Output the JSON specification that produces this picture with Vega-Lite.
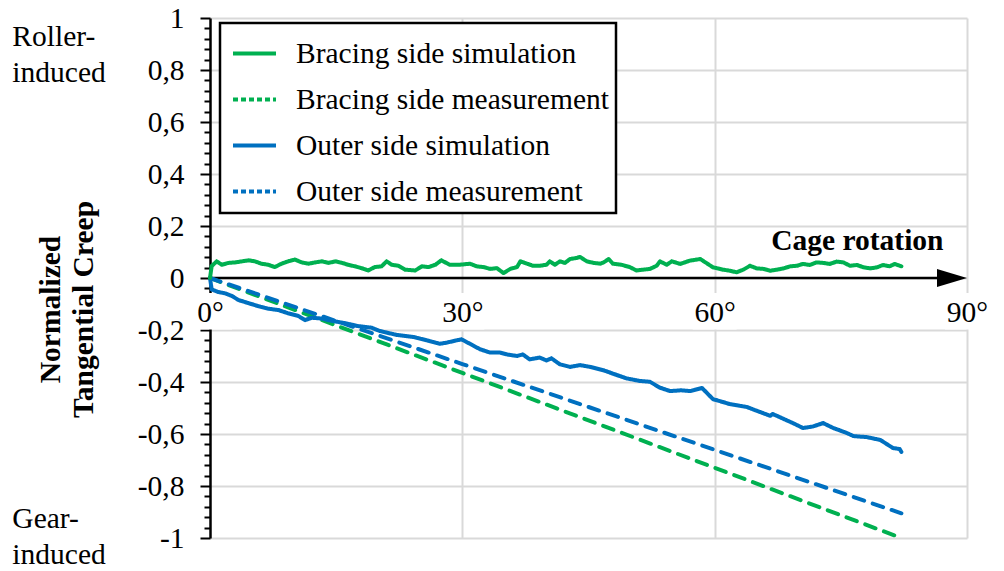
{
  "$schema": "https://vega.github.io/schema/vega-lite/v6.json",
  "width": 757,
  "height": 520,
  "autosize": "none",
  "padding": {"left": 210, "top": 18, "right": 37, "bottom": 33},
  "background": "white",
  "config": {"view": {"stroke": null}, "font": "Liberation Serif", "legend": {"strokeWidth": 2.5, "strokeColor": "black", "fillColor": "white"}},
  "datasets": {
    "ticks": [{"t": 0}, {"t": 30}, {"t": 60}, {"t": 90}],
    "creep": [
      {"deg": 0, "v": 0, "series": "Bracing side measurement", "type": "measurement"},
      {"deg": 30, "v": -0.365, "series": "Bracing side measurement", "type": "measurement"},
      {"deg": 82.2, "v": -1.0, "series": "Bracing side measurement", "type": "measurement"},
      {"deg": 0, "v": 0, "series": "Outer side measurement", "type": "measurement"},
      {"deg": 30, "v": -0.331, "series": "Outer side measurement", "type": "measurement"},
      {"deg": 82.2, "v": -0.905, "series": "Outer side measurement", "type": "measurement"},
      {"deg": 0, "v": 0, "series": "Outer side simulation", "type": "simulation"},
      {"deg": 0.2, "v": -0.044, "series": "Outer side simulation", "type": "simulation"},
      {"deg": 1.0, "v": -0.054, "series": "Outer side simulation", "type": "simulation"},
      {"deg": 1.8, "v": -0.059, "series": "Outer side simulation", "type": "simulation"},
      {"deg": 2.6, "v": -0.069, "series": "Outer side simulation", "type": "simulation"},
      {"deg": 3.4, "v": -0.085, "series": "Outer side simulation", "type": "simulation"},
      {"deg": 4.6, "v": -0.097, "series": "Outer side simulation", "type": "simulation"},
      {"deg": 5.7, "v": -0.108, "series": "Outer side simulation", "type": "simulation"},
      {"deg": 6.9, "v": -0.118, "series": "Outer side simulation", "type": "simulation"},
      {"deg": 8.1, "v": -0.123, "series": "Outer side simulation", "type": "simulation"},
      {"deg": 9.3, "v": -0.136, "series": "Outer side simulation", "type": "simulation"},
      {"deg": 10.5, "v": -0.146, "series": "Outer side simulation", "type": "simulation"},
      {"deg": 11.3, "v": -0.162, "series": "Outer side simulation", "type": "simulation"},
      {"deg": 12.1, "v": -0.153, "series": "Outer side simulation", "type": "simulation"},
      {"deg": 13.3, "v": -0.156, "series": "Outer side simulation", "type": "simulation"},
      {"deg": 14.5, "v": -0.165, "series": "Outer side simulation", "type": "simulation"},
      {"deg": 16.1, "v": -0.174, "series": "Outer side simulation", "type": "simulation"},
      {"deg": 17.6, "v": -0.185, "series": "Outer side simulation", "type": "simulation"},
      {"deg": 19.2, "v": -0.191, "series": "Outer side simulation", "type": "simulation"},
      {"deg": 20.2, "v": -0.204, "series": "Outer side simulation", "type": "simulation"},
      {"deg": 22.2, "v": -0.219, "series": "Outer side simulation", "type": "simulation"},
      {"deg": 24.2, "v": -0.227, "series": "Outer side simulation", "type": "simulation"},
      {"deg": 25.8, "v": -0.24, "series": "Outer side simulation", "type": "simulation"},
      {"deg": 27.3, "v": -0.253, "series": "Outer side simulation", "type": "simulation"},
      {"deg": 28.1, "v": -0.249, "series": "Outer side simulation", "type": "simulation"},
      {"deg": 29.3, "v": -0.24, "series": "Outer side simulation", "type": "simulation"},
      {"deg": 29.9, "v": -0.236, "series": "Outer side simulation", "type": "simulation"},
      {"deg": 30.9, "v": -0.253, "series": "Outer side simulation", "type": "simulation"},
      {"deg": 32.1, "v": -0.274, "series": "Outer side simulation", "type": "simulation"},
      {"deg": 33.3, "v": -0.287, "series": "Outer side simulation", "type": "simulation"},
      {"deg": 34.5, "v": -0.287, "series": "Outer side simulation", "type": "simulation"},
      {"deg": 35.3, "v": -0.294, "series": "Outer side simulation", "type": "simulation"},
      {"deg": 36.5, "v": -0.3, "series": "Outer side simulation", "type": "simulation"},
      {"deg": 37.2, "v": -0.294, "series": "Outer side simulation", "type": "simulation"},
      {"deg": 38.0, "v": -0.313, "series": "Outer side simulation", "type": "simulation"},
      {"deg": 39.2, "v": -0.306, "series": "Outer side simulation", "type": "simulation"},
      {"deg": 40.0, "v": -0.317, "series": "Outer side simulation", "type": "simulation"},
      {"deg": 40.6, "v": -0.309, "series": "Outer side simulation", "type": "simulation"},
      {"deg": 41.6, "v": -0.332, "series": "Outer side simulation", "type": "simulation"},
      {"deg": 42.8, "v": -0.342, "series": "Outer side simulation", "type": "simulation"},
      {"deg": 44.0, "v": -0.335, "series": "Outer side simulation", "type": "simulation"},
      {"deg": 45.2, "v": -0.342, "series": "Outer side simulation", "type": "simulation"},
      {"deg": 46.8, "v": -0.355, "series": "Outer side simulation", "type": "simulation"},
      {"deg": 47.9, "v": -0.368, "series": "Outer side simulation", "type": "simulation"},
      {"deg": 49.5, "v": -0.386, "series": "Outer side simulation", "type": "simulation"},
      {"deg": 51.1, "v": -0.396, "series": "Outer side simulation", "type": "simulation"},
      {"deg": 52.3, "v": -0.399, "series": "Outer side simulation", "type": "simulation"},
      {"deg": 53.5, "v": -0.422, "series": "Outer side simulation", "type": "simulation"},
      {"deg": 54.7, "v": -0.435, "series": "Outer side simulation", "type": "simulation"},
      {"deg": 56.0, "v": -0.432, "series": "Outer side simulation", "type": "simulation"},
      {"deg": 57.1, "v": -0.435, "series": "Outer side simulation", "type": "simulation"},
      {"deg": 58.5, "v": -0.423, "series": "Outer side simulation", "type": "simulation"},
      {"deg": 59.8, "v": -0.466, "series": "Outer side simulation", "type": "simulation"},
      {"deg": 61.8, "v": -0.485, "series": "Outer side simulation", "type": "simulation"},
      {"deg": 63.8, "v": -0.496, "series": "Outer side simulation", "type": "simulation"},
      {"deg": 66.6, "v": -0.53, "series": "Outer side simulation", "type": "simulation"},
      {"deg": 66.9, "v": -0.523, "series": "Outer side simulation", "type": "simulation"},
      {"deg": 69.3, "v": -0.558, "series": "Outer side simulation", "type": "simulation"},
      {"deg": 70.5, "v": -0.577, "series": "Outer side simulation", "type": "simulation"},
      {"deg": 71.7, "v": -0.571, "series": "Outer side simulation", "type": "simulation"},
      {"deg": 72.9, "v": -0.558, "series": "Outer side simulation", "type": "simulation"},
      {"deg": 74.1, "v": -0.577, "series": "Outer side simulation", "type": "simulation"},
      {"deg": 75.7, "v": -0.596, "series": "Outer side simulation", "type": "simulation"},
      {"deg": 76.5, "v": -0.608, "series": "Outer side simulation", "type": "simulation"},
      {"deg": 78.1, "v": -0.612, "series": "Outer side simulation", "type": "simulation"},
      {"deg": 79.7, "v": -0.623, "series": "Outer side simulation", "type": "simulation"},
      {"deg": 81.2, "v": -0.654, "series": "Outer side simulation", "type": "simulation"},
      {"deg": 82.0, "v": -0.658, "series": "Outer side simulation", "type": "simulation"},
      {"deg": 82.2, "v": -0.669, "series": "Outer side simulation", "type": "simulation"},
      {"deg": 0, "v": 0, "series": "Bracing side simulation", "type": "simulation"},
      {"deg": 0.2, "v": 0.046, "series": "Bracing side simulation", "type": "simulation"},
      {"deg": 0.8, "v": 0.064, "series": "Bracing side simulation", "type": "simulation"},
      {"deg": 1.4, "v": 0.051, "series": "Bracing side simulation", "type": "simulation"},
      {"deg": 2.2, "v": 0.058, "series": "Bracing side simulation", "type": "simulation"},
      {"deg": 3.0, "v": 0.06, "series": "Bracing side simulation", "type": "simulation"},
      {"deg": 3.8, "v": 0.064, "series": "Bracing side simulation", "type": "simulation"},
      {"deg": 4.6, "v": 0.068, "series": "Bracing side simulation", "type": "simulation"},
      {"deg": 5.35, "v": 0.064, "series": "Bracing side simulation", "type": "simulation"},
      {"deg": 6.1, "v": 0.055, "series": "Bracing side simulation", "type": "simulation"},
      {"deg": 6.9, "v": 0.051, "series": "Bracing side simulation", "type": "simulation"},
      {"deg": 7.7, "v": 0.042, "series": "Bracing side simulation", "type": "simulation"},
      {"deg": 8.5, "v": 0.055, "series": "Bracing side simulation", "type": "simulation"},
      {"deg": 9.3, "v": 0.064, "series": "Bracing side simulation", "type": "simulation"},
      {"deg": 10.1, "v": 0.071, "series": "Bracing side simulation", "type": "simulation"},
      {"deg": 10.9, "v": 0.06, "series": "Bracing side simulation", "type": "simulation"},
      {"deg": 11.7, "v": 0.055, "series": "Bracing side simulation", "type": "simulation"},
      {"deg": 12.5, "v": 0.06, "series": "Bracing side simulation", "type": "simulation"},
      {"deg": 13.3, "v": 0.064, "series": "Bracing side simulation", "type": "simulation"},
      {"deg": 14.1, "v": 0.058, "series": "Bracing side simulation", "type": "simulation"},
      {"deg": 14.9, "v": 0.064, "series": "Bracing side simulation", "type": "simulation"},
      {"deg": 15.7, "v": 0.058, "series": "Bracing side simulation", "type": "simulation"},
      {"deg": 16.4, "v": 0.051, "series": "Bracing side simulation", "type": "simulation"},
      {"deg": 17.2, "v": 0.045, "series": "Bracing side simulation", "type": "simulation"},
      {"deg": 18.0, "v": 0.038, "series": "Bracing side simulation", "type": "simulation"},
      {"deg": 18.8, "v": 0.029, "series": "Bracing side simulation", "type": "simulation"},
      {"deg": 19.6, "v": 0.042, "series": "Bracing side simulation", "type": "simulation"},
      {"deg": 20.4, "v": 0.045, "series": "Bracing side simulation", "type": "simulation"},
      {"deg": 21.0, "v": 0.064, "series": "Bracing side simulation", "type": "simulation"},
      {"deg": 21.6, "v": 0.051, "series": "Bracing side simulation", "type": "simulation"},
      {"deg": 22.4, "v": 0.047, "series": "Bracing side simulation", "type": "simulation"},
      {"deg": 23.2, "v": 0.032, "series": "Bracing side simulation", "type": "simulation"},
      {"deg": 24.4, "v": 0.029, "series": "Bracing side simulation", "type": "simulation"},
      {"deg": 25.2, "v": 0.045, "series": "Bracing side simulation", "type": "simulation"},
      {"deg": 26.0, "v": 0.042, "series": "Bracing side simulation", "type": "simulation"},
      {"deg": 26.8, "v": 0.051, "series": "Bracing side simulation", "type": "simulation"},
      {"deg": 27.5, "v": 0.068, "series": "Bracing side simulation", "type": "simulation"},
      {"deg": 28.5, "v": 0.051, "series": "Bracing side simulation", "type": "simulation"},
      {"deg": 29.7, "v": 0.051, "series": "Bracing side simulation", "type": "simulation"},
      {"deg": 30.9, "v": 0.055, "series": "Bracing side simulation", "type": "simulation"},
      {"deg": 31.7, "v": 0.045, "series": "Bracing side simulation", "type": "simulation"},
      {"deg": 32.5, "v": 0.042, "series": "Bracing side simulation", "type": "simulation"},
      {"deg": 33.3, "v": 0.035, "series": "Bracing side simulation", "type": "simulation"},
      {"deg": 34.1, "v": 0.038, "series": "Bracing side simulation", "type": "simulation"},
      {"deg": 34.9, "v": 0.019, "series": "Bracing side simulation", "type": "simulation"},
      {"deg": 35.7, "v": 0.035, "series": "Bracing side simulation", "type": "simulation"},
      {"deg": 36.5, "v": 0.042, "series": "Bracing side simulation", "type": "simulation"},
      {"deg": 36.9, "v": 0.064, "series": "Bracing side simulation", "type": "simulation"},
      {"deg": 37.7, "v": 0.055, "series": "Bracing side simulation", "type": "simulation"},
      {"deg": 38.4, "v": 0.047, "series": "Bracing side simulation", "type": "simulation"},
      {"deg": 39.2, "v": 0.047, "series": "Bracing side simulation", "type": "simulation"},
      {"deg": 40.0, "v": 0.051, "series": "Bracing side simulation", "type": "simulation"},
      {"deg": 40.4, "v": 0.064, "series": "Bracing side simulation", "type": "simulation"},
      {"deg": 41.0, "v": 0.051, "series": "Bracing side simulation", "type": "simulation"},
      {"deg": 41.6, "v": 0.064, "series": "Bracing side simulation", "type": "simulation"},
      {"deg": 42.2, "v": 0.058, "series": "Bracing side simulation", "type": "simulation"},
      {"deg": 42.8, "v": 0.073, "series": "Bracing side simulation", "type": "simulation"},
      {"deg": 43.6, "v": 0.077, "series": "Bracing side simulation", "type": "simulation"},
      {"deg": 44.0, "v": 0.081, "series": "Bracing side simulation", "type": "simulation"},
      {"deg": 44.8, "v": 0.064, "series": "Bracing side simulation", "type": "simulation"},
      {"deg": 45.6, "v": 0.058, "series": "Bracing side simulation", "type": "simulation"},
      {"deg": 46.4, "v": 0.055, "series": "Bracing side simulation", "type": "simulation"},
      {"deg": 46.8, "v": 0.06, "series": "Bracing side simulation", "type": "simulation"},
      {"deg": 47.4, "v": 0.073, "series": "Bracing side simulation", "type": "simulation"},
      {"deg": 47.9, "v": 0.055, "series": "Bracing side simulation", "type": "simulation"},
      {"deg": 48.9, "v": 0.051, "series": "Bracing side simulation", "type": "simulation"},
      {"deg": 49.9, "v": 0.042, "series": "Bracing side simulation", "type": "simulation"},
      {"deg": 50.7, "v": 0.029, "series": "Bracing side simulation", "type": "simulation"},
      {"deg": 51.5, "v": 0.032, "series": "Bracing side simulation", "type": "simulation"},
      {"deg": 52.3, "v": 0.035, "series": "Bracing side simulation", "type": "simulation"},
      {"deg": 53.1, "v": 0.047, "series": "Bracing side simulation", "type": "simulation"},
      {"deg": 53.5, "v": 0.064, "series": "Bracing side simulation", "type": "simulation"},
      {"deg": 54.3, "v": 0.051, "series": "Bracing side simulation", "type": "simulation"},
      {"deg": 54.9, "v": 0.064, "series": "Bracing side simulation", "type": "simulation"},
      {"deg": 55.9, "v": 0.054, "series": "Bracing side simulation", "type": "simulation"},
      {"deg": 57.1, "v": 0.067, "series": "Bracing side simulation", "type": "simulation"},
      {"deg": 58.3, "v": 0.073, "series": "Bracing side simulation", "type": "simulation"},
      {"deg": 58.9, "v": 0.06, "series": "Bracing side simulation", "type": "simulation"},
      {"deg": 59.8, "v": 0.041, "series": "Bracing side simulation", "type": "simulation"},
      {"deg": 61.0, "v": 0.032, "series": "Bracing side simulation", "type": "simulation"},
      {"deg": 61.8, "v": 0.028, "series": "Bracing side simulation", "type": "simulation"},
      {"deg": 62.6, "v": 0.022, "series": "Bracing side simulation", "type": "simulation"},
      {"deg": 63.4, "v": 0.032, "series": "Bracing side simulation", "type": "simulation"},
      {"deg": 64.2, "v": 0.047, "series": "Bracing side simulation", "type": "simulation"},
      {"deg": 65.0, "v": 0.037, "series": "Bracing side simulation", "type": "simulation"},
      {"deg": 65.8, "v": 0.035, "series": "Bracing side simulation", "type": "simulation"},
      {"deg": 66.6, "v": 0.028, "series": "Bracing side simulation", "type": "simulation"},
      {"deg": 67.4, "v": 0.032, "series": "Bracing side simulation", "type": "simulation"},
      {"deg": 68.2, "v": 0.037, "series": "Bracing side simulation", "type": "simulation"},
      {"deg": 69.0, "v": 0.045, "series": "Bracing side simulation", "type": "simulation"},
      {"deg": 69.8, "v": 0.047, "series": "Bracing side simulation", "type": "simulation"},
      {"deg": 70.5, "v": 0.054, "series": "Bracing side simulation", "type": "simulation"},
      {"deg": 71.3, "v": 0.05, "series": "Bracing side simulation", "type": "simulation"},
      {"deg": 72.1, "v": 0.06, "series": "Bracing side simulation", "type": "simulation"},
      {"deg": 72.9, "v": 0.058, "series": "Bracing side simulation", "type": "simulation"},
      {"deg": 73.7, "v": 0.054, "series": "Bracing side simulation", "type": "simulation"},
      {"deg": 74.5, "v": 0.063, "series": "Bracing side simulation", "type": "simulation"},
      {"deg": 75.3, "v": 0.06, "series": "Bracing side simulation", "type": "simulation"},
      {"deg": 76.1, "v": 0.047, "series": "Bracing side simulation", "type": "simulation"},
      {"deg": 76.9, "v": 0.05, "series": "Bracing side simulation", "type": "simulation"},
      {"deg": 77.7, "v": 0.041, "series": "Bracing side simulation", "type": "simulation"},
      {"deg": 78.5, "v": 0.037, "series": "Bracing side simulation", "type": "simulation"},
      {"deg": 79.3, "v": 0.041, "series": "Bracing side simulation", "type": "simulation"},
      {"deg": 80.0, "v": 0.05, "series": "Bracing side simulation", "type": "simulation"},
      {"deg": 80.8, "v": 0.045, "series": "Bracing side simulation", "type": "simulation"},
      {"deg": 81.4, "v": 0.054, "series": "Bracing side simulation", "type": "simulation"},
      {"deg": 82.2, "v": 0.045, "series": "Bracing side simulation", "type": "simulation"}
    ]
  },
  "resolve": {"axis": {"x": "independent", "y": "independent"}},
  "layer": [
    {
      "data": {"name": "ticks"},
      "mark": {"type": "bar", "color": "white", "width": 44},
      "encoding": {
        "x": {
          "field": "t", "type": "quantitative",
          "scale": {"domain": [0, 90], "nice": false, "zero": false, "padding": 0},
          "axis": {
            "orient": "top", "values": [30, 60, 90], "grid": true,
            "gridColor": "#d9d9d9", "gridWidth": 2,
            "labels": false, "ticks": false, "domain": false, "title": null, "zindex": 0
          }
        },
        "y": {
          "datum": -0.058, "type": "quantitative",
          "scale": {"domain": [-1, 1], "nice": false, "zero": false, "padding": 0},
          "axis": {
            "orient": "left",
            "values": [-0.96, -0.92, -0.88, -0.84, -0.76, -0.72, -0.68, -0.64, -0.56, -0.52, -0.48, -0.44, -0.36, -0.32, -0.28, -0.24, -0.16, -0.12, -0.08, -0.04, 0.04, 0.08, 0.12, 0.16, 0.24, 0.28, 0.32, 0.36, 0.44, 0.48, 0.52, 0.56, 0.64, 0.68, 0.72, 0.76, 0.84, 0.88, 0.92, 0.96],
            "domain": false, "grid": false, "labels": false,
            "ticks": true, "tickColor": "black", "tickWidth": 2, "tickSize": 6,
            "title": null, "zindex": 0
          }
        },
        "y2": {"datum": -0.198}
      }
    },
    {
      "data": {"values": [{}]},
      "mark": {"type": "rule", "color": "black", "strokeWidth": 2.5},
      "encoding": {
        "x": {"datum": 0, "type": "quantitative", "axis": null},
        "x2": {"datum": 88},
        "y": {"datum": 0, "type": "quantitative", "axis": null}
      }
    },
    {
      "data": {"values": [{}]},
      "mark": {"type": "point", "shape": "M-1,-0.6L1,0L-1,0.6Z", "filled": true, "color": "black", "opacity": 1, "size": 900, "xOffset": -15},
      "encoding": {
        "x": {"datum": 90, "type": "quantitative", "axis": null},
        "y": {"datum": 0, "type": "quantitative", "axis": null}
      }
    },
    {
      "data": {"name": "creep"},
      "mark": {"type": "line", "strokeWidth": 4, "strokeCap": "round", "strokeJoin": "round"},
      "encoding": {
        "x": {
          "field": "deg", "type": "quantitative",
          "axis": {
            "orient": "bottom", "offset": -226, "values": [0, 30, 60, 90],
            "labelExpr": "datum.value + '°'",
            "domain": false, "ticks": false, "tickSize": 0, "grid": false,
            "labelPadding": 0, "labelBaseline": "middle", "labelFlush": false, "labelOverlap": false,
            "labelFont": "Liberation Serif", "labelFontSize": 29.5, "labelColor": "black",
            "title": "Cage rotation", "titleFont": "Liberation Serif", "titleFontSize": 29.5, "titleFontWeight": "bold", "titleColor": "black",
            "titleX": 733, "titleY": -72, "titleAlign": "right", "titleBaseline": "middle", "titleAnchor": "end",
            "zindex": 1
          }
        },
        "y": {
          "field": "v", "type": "quantitative",
          "axis": {
            "orient": "left",
            "values": [-1, -0.8, -0.6, -0.4, -0.2, 0, 0.2, 0.4, 0.6, 0.8, 1],
            "domain": true, "domainColor": "black", "domainWidth": 2.5,
            "ticks": true, "tickColor": "black", "tickWidth": 2, "tickSize": 10,
            "grid": true, "gridColor": "#d9d9d9", "gridWidth": 2,
            "labelExpr": "(datum.value < 0 ? '-' : '') + replace(format(abs(datum.value), '~g'), '.', ',')",
            "labelFont": "Liberation Serif", "labelFontSize": 29.5, "labelColor": "black",
            "labelPadding": 16, "labelOverlap": false, "labelFlush": false,
            "title": ["Normalized", "Tangential Creep"],
            "titleFont": "Liberation Serif", "titleFontSize": 29.5, "titleFontWeight": "bold", "titleColor": "black",
            "titleAngle": -90, "titleX": -160, "titleY": 291, "titleAlign": "center", "titleBaseline": "middle", "titleLineHeight": 33,
            "zindex": 0
          }
        },
        "color": {
          "field": "series", "type": "nominal",
          "scale": {
            "domain": ["Bracing side simulation", "Bracing side measurement", "Outer side simulation", "Outer side measurement"],
            "range": ["#00B050", "#00B050", "#0070C0", "#0070C0"]
          },
          "legend": {
            "orient": "none", "legendX": 10, "legendY": 5, "title": null,
            "symbolType": "stroke", "symbolSize": 1849, "symbolStrokeWidth": 4, "symbolOffset": 4,
            "labelFont": "Liberation Serif", "labelFontSize": 29.5, "labelColor": "black", "labelOffset": 18, "labelLimit": 700,
            "labelExpr": "datum.label + '\u00a0\u00a0\u00a0'",
            "rowPadding": 8, "padding": 7,
            "strokeColor": "black", "fillColor": "white",
            "encode": {"symbols": {"update": {"strokeDash": {"signal": "indexof(datum.value, 'measurement') >= 0 ? [5, 3] : [1, 0]"}}}}
          }
        },
        "strokeDash": {
          "field": "type", "type": "nominal",
          "scale": {"domain": ["simulation", "measurement"], "range": [[1, 0], [11, 9]]},
          "legend": null
        },
        "order": {"field": "deg", "type": "quantitative"}
      }
    },
    {
      "data": {"values": [{}]},
      "mark": {"type": "text", "text": ["Roller-", "induced"], "align": "left", "baseline": "alphabetic", "lineHeight": 36, "font": "Liberation Serif", "fontSize": 29.5, "color": "black"},
      "encoding": {
        "x": {"datum": -23.5, "type": "quantitative", "axis": null},
        "y": {"datum": 0.892, "type": "quantitative", "axis": null}
      }
    },
    {
      "data": {"values": [{}]},
      "mark": {"type": "text", "text": ["Gear-", "induced"], "align": "left", "baseline": "alphabetic", "lineHeight": 36, "font": "Liberation Serif", "fontSize": 29.5, "color": "black"},
      "encoding": {
        "x": {"datum": -23.5, "type": "quantitative", "axis": null},
        "y": {"datum": -0.962, "type": "quantitative", "axis": null}
      }
    }
  ]
}
